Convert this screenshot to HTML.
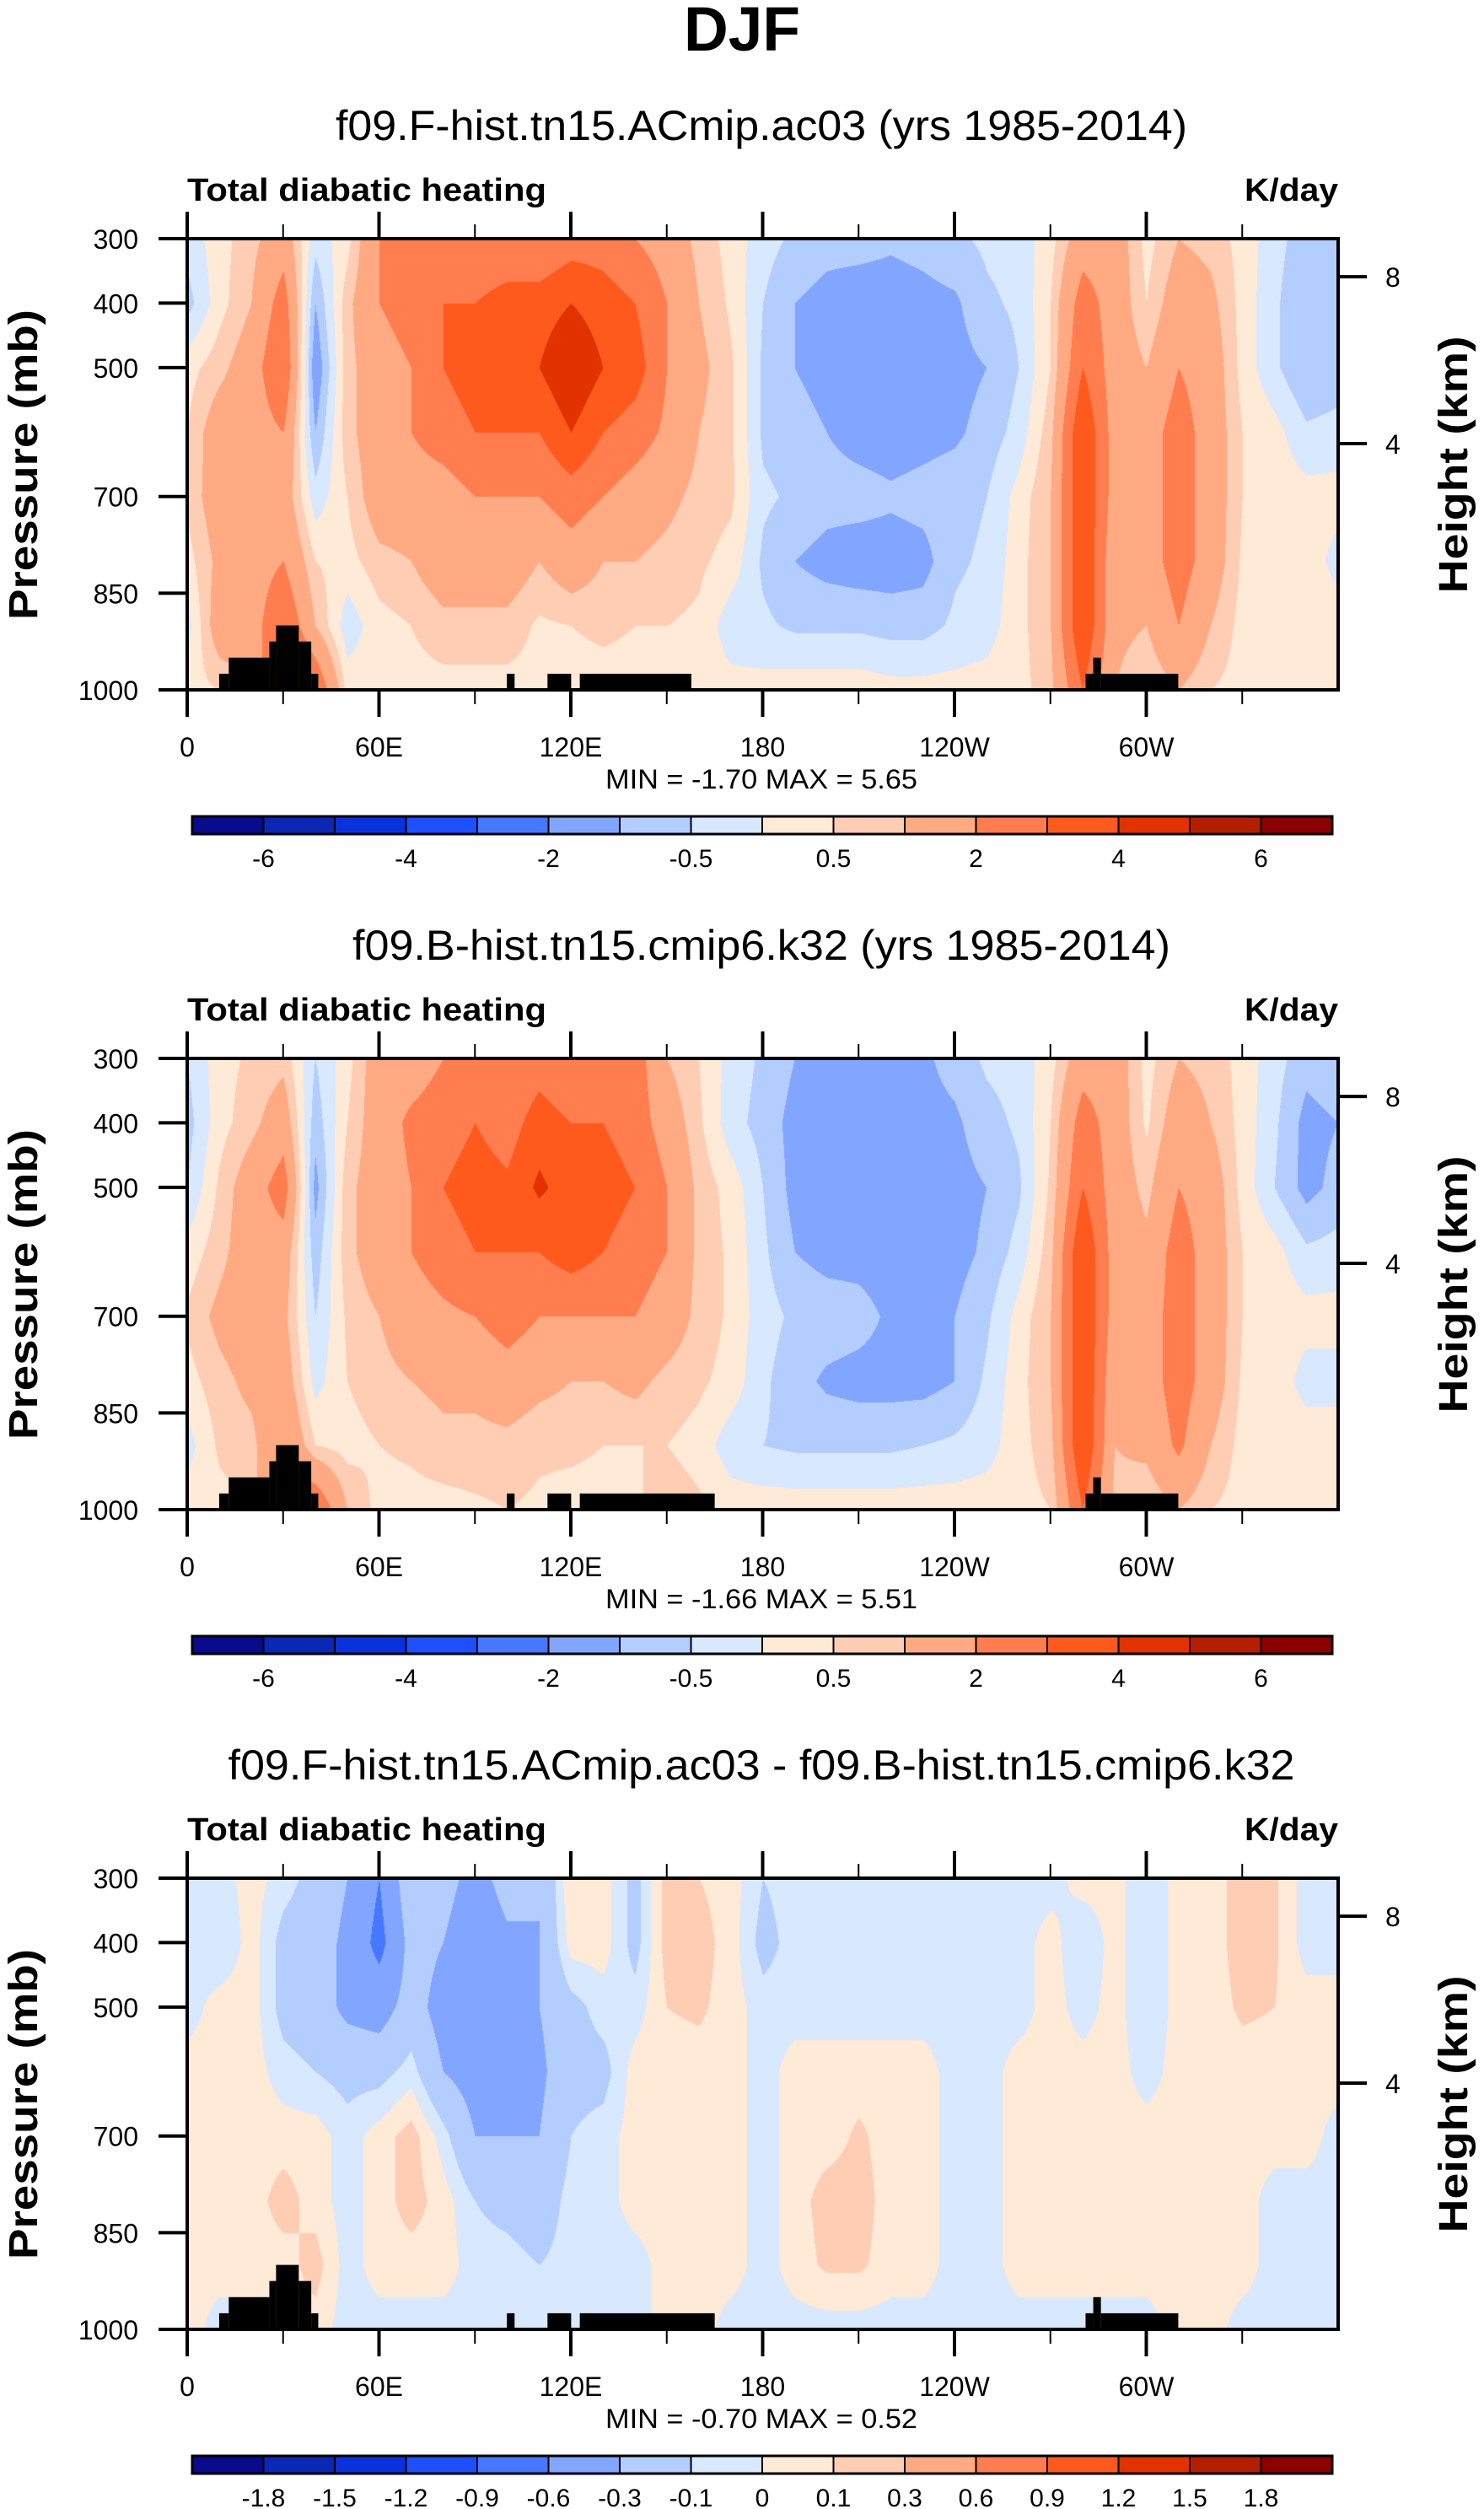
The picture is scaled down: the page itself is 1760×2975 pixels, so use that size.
<!DOCTYPE html>
<html><head><meta charset="utf-8">
<style>
html,body{margin:0;padding:0;background:#fff;}
#wrap{position:relative;width:1760px;height:2975px;overflow:hidden;background:#fff;}
canvas{position:absolute;}
svg{position:absolute;left:0;top:0;}
text{font-family:"Liberation Sans",sans-serif;fill:#000;}
</style></head>
<body>
<div id="wrap">
<svg id="svg" width="1760" height="2975"></svg>
</div>
<script>
// ---- data ----
const lons = [0,10,20,30,40,50,60,70,80,90,100,110,120,130,140,150,160,170,180,190,200,210,220,230,240,250,260,270,280,290,300,310,320,330,340,350,360];
const levels = [300,400,500,600,700,800,900,1000];
const heatA = [
[-0.3,-0.7,0.3,0.5,0.6,0.3,-0.2,0.3],[0.3,0.3,0.8,1.5,1.5,1.2,1.5,0.5],[0.8,1.0,1.5,1.5,1.5,1.5,1.5,1],
[1.5,2.5,3,2,1.5,2,3,4],[-0.3,-1,-1.5,-1,-0.3,0.5,1,3],[0.3,0.8,0.8,0.8,0.5,0.3,-0.3,0.3],
[2,2,1.5,1.5,1.5,0.8,0.3,0.3],[2,2.5,2,2,1.5,1,0.5,0.3],[2,3,3,2.5,1.5,1.5,0.8,0.3],
[2,3,3.5,3,2,1.5,0.8,0.3],[2,3.5,4,3,2,1.5,0.8,0.3],[2,3.5,4,3,2,1,0.4,0.3],
[2.5,4,5,4,2.5,1.5,0.5,0.3],[2.5,3.5,4,3,2,1,0.6,0.3],[2,3,3.5,2.5,1.5,1,0.5,0.3],
[1.5,2,2,1.8,1.2,0.8,0.5,0.3],[0.8,1,1.2,1,0.8,0.6,0.4,0.3],[0.3,0.4,0.6,0.6,0.6,0.3,-0.3,0.2],
[-0.3,-0.5,-0.6,-0.6,-0.4,-0.6,-0.4,0.2],[-0.6,-1,-1,-0.8,-0.6,-1,-0.6,0.3],[-0.8,-1.2,-1.2,-1,-0.8,-1.2,-0.6,0.3],
[-0.8,-1.3,-1.4,-1.2,-0.8,-1.3,-0.6,0.3],[-0.9,-1.3,-1.4,-1.3,-0.9,-1.3,-0.7,0.2],[-0.8,-1.2,-1.3,-1.2,-0.8,-1.2,-0.7,0.2],
[-0.6,-1.1,-1.2,-1.1,-0.7,-0.6,-0.4,0.2],[-0.4,-0.6,-1,-0.8,-0.5,-0.4,-0.2,0.2],[-0.3,-0.4,-0.5,-0.3,0.2,0.3,0.3,0.3],
[0.3,0.5,0.5,0.8,1,1,1,0.8],[1.5,2.5,3,4,4,4,4,3],[1.5,1.5,1.5,1.5,1.5,1.2,1.2,1],
[0.3,0.5,1,1.5,1.5,1.5,1,0.5],[1,1.5,2,2.5,2.5,2.5,2,1],[0.8,1.2,1.5,1.5,1.5,1.5,1,0.5],
[0.3,0.3,0.3,0.5,0.5,0.4,0.3,0.3],[-0.3,-0.4,-0.4,0.2,0.3,0.3,0.3,0.3],[-0.8,-1,-1,-0.4,0.2,0.3,0.3,0.3],
[-0.6,-1,-0.8,-0.3,0.2,-0.2,0.3,0.3]];
const heatB = [
[-0.5,-0.7,-0.5,0.2,0.6,0.3,-0.2,0.3],[0.3,0.3,0.6,0.8,1.2,0.8,0.6,0.3],[0.6,0.8,1.5,1.5,1.5,1.2,0.8,0.5],
[0.8,1.5,2.5,1.5,1.2,1.5,2,3],[-0.5,-0.8,-1.2,-0.8,-0.5,-0.2,0.5,3],[0.3,0.5,0.8,0.8,0.6,0.5,0.3,1],
[1.5,1.5,1.5,1.5,1,0.8,0.5,0.3],[1.5,2.2,2,2,1.5,1,0.6,0.3],[2,2.5,3,2.5,1.8,1.2,0.8,0.3],
[2.2,3,3.5,3,2,1.2,0.8,0.4],[2,2.5,3.2,3,2.5,1.5,0.8,0.5],[2.5,3.5,4.2,3,2,1.2,0.6,0.4],
[2,3,3.5,3.5,2,1,0.6,0.3],[2.5,3,3.5,3,2,1,0.5,0.3],[2.5,2.5,3,2.5,2,1.2,0.5,0.4],
[1,1.5,2,2,1.5,0.8,0.5,0.8],[0.5,0.6,0.8,0.8,0.8,0.6,0.3,0.6],[-0.2,-0.3,0.3,0.4,0.4,0.3,-0.3,0.3],
[-0.6,-0.7,-0.5,-0.4,-0.3,-0.4,-0.5,0.3],[-1,-1.2,-1.2,-1,-0.6,-0.8,-0.6,0.3],[-1.2,-1.3,-1.3,-1.2,-0.7,-1.1,-0.6,0.3],
[-1.2,-1.3,-1.3,-1.2,-0.8,-1.2,-0.6,0.3],[-1.2,-1.3,-1.4,-1.3,-1.1,-1.2,-0.6,0.3],[-1.1,-1.2,-1.3,-1.2,-1.1,-1.2,-0.5,0.3],
[-0.8,-1.1,-1.2,-1.2,-1,-1,-0.4,0.3],[-0.4,-0.7,-1,-0.9,-0.6,-0.4,-0.2,0.3],[-0.3,-0.4,-0.6,-0.3,0.2,0.3,0.3,0.3],
[0.3,0.5,0.6,0.8,1,1,0.8,0.5],[1.5,2.5,3,4,4,4,4,3],[1.5,1.5,1.5,1.5,1.5,1.2,1,0.8],
[0.3,0.4,0.8,1.2,1.5,1.5,1.2,0.5],[1,1.5,2,2.5,2.5,2.5,2.2,1],[0.8,1,1.5,1.5,1.5,1.5,1,0.5],
[0.3,0.3,0.3,0.5,0.5,0.4,0.3,0.3],[-0.3,-0.4,-0.5,0.2,0.3,0.3,0.3,0.3],[-0.8,-1.2,-1.2,-0.4,0.2,-0.2,0.3,0.3],
[-0.6,-1,-0.8,-0.3,0.2,-0.2,0.3,0.3]];
const heatDiff = [
[-0.05,-0.05,-0.05,0.05,0.05,0.05,0.05,0.05],[-0.05,-0.1,0.05,0.05,0.05,0.05,0.05,-0.05],[0.05,0.05,0.05,0.05,0.05,0.05,0.05,-0.05],
[-0.05,-0.15,-0.15,-0.05,0.05,0.15,0.05,0.05],[-0.15,-0.2,-0.2,-0.1,0.05,0.05,0.15,0.05],[-0.3,-0.35,-0.35,-0.15,-0.05,-0.05,-0.05,-0.05],
[-0.6,-0.7,-0.4,-0.15,0.05,0.05,0.05,-0.05],[-0.1,-0.2,-0.2,-0.05,0.15,0.15,0.05,-0.05],[-0.2,-0.3,-0.4,-0.3,-0.05,0.05,0.05,-0.05],
[-0.4,-0.5,-0.5,-0.4,-0.3,-0.1,-0.05,-0.05],[-0.2,-0.35,-0.4,-0.35,-0.3,-0.15,-0.05,-0.05],[-0.3,-0.3,-0.3,-0.35,-0.3,-0.2,-0.1,-0.05],
[0.1,0.05,-0.15,-0.15,-0.1,-0.05,-0.05,-0.05],[0.05,0.05,-0.05,-0.15,-0.05,-0.05,-0.05,-0.05],[-0.15,-0.15,-0.05,0.05,0.05,0.05,-0.05,-0.05],
[0.15,0.15,0.1,0.05,0.05,0.05,0.05,0.05],[0.1,0.15,0.12,0.05,0.05,0.05,0.05,0.05],[0.05,0.05,0.05,0.05,0.05,0.05,0.05,-0.05],
[-0.1,-0.15,-0.05,-0.05,-0.05,-0.05,-0.05,-0.05],[-0.05,-0.05,-0.05,0.05,0.05,0.05,0.05,-0.05],[-0.05,-0.05,-0.05,0.05,0.05,0.15,0.12,-0.05],
[-0.05,-0.05,-0.05,0.05,0.12,0.15,0.12,-0.05],[-0.05,-0.05,-0.05,0.05,0.05,0.05,0.05,-0.05],[-0.05,-0.05,-0.05,0.05,0.05,0.05,0.05,-0.05],
[-0.05,-0.05,-0.05,-0.05,-0.05,-0.05,-0.05,-0.05],[-0.05,-0.05,-0.05,-0.05,-0.05,-0.05,-0.05,-0.05],[-0.05,-0.05,-0.05,0.05,0.05,0.05,0.05,-0.05],
[-0.05,0.05,0.05,0.05,0.05,0.05,0.05,-0.05],[0.05,-0.1,-0.05,0.05,0.05,0.05,0.05,-0.05],[0.05,0.05,0.05,0.05,0.05,0.05,0.05,-0.05],
[-0.1,-0.1,-0.1,-0.05,0.05,0.05,0.05,-0.05],[0.05,0.05,0.05,0.05,0.05,0.05,0.05,0.05],[0.05,0.05,0.05,0.05,0.05,0.05,0.05,0.05],
[0.15,0.15,0.12,0.05,0.05,0.05,0.05,-0.05],[0.12,0.12,0.1,0.05,0.05,-0.05,-0.05,-0.05],[-0.05,-0.05,0.05,0.05,0.05,-0.05,-0.05,-0.05],
[-0.05,-0.05,0.05,0.05,-0.05,-0.05,-0.05,-0.05]];
const boundsFull = [-6,-5,-4,-3,-2,-1,-0.5,0,0.5,1,2,3,4,5,6];
const labelsFull = ["","-6","","-4","","-2","","-0.5","","0.5","","2","","4","","6",""];
const boundsDiff = [-1.8,-1.5,-1.2,-0.9,-0.6,-0.3,-0.1,0,0.1,0.3,0.6,0.9,1.2,1.5,1.8];
const labelsDiff = ["","-1.8","-1.5","-1.2","-0.9","-0.6","-0.3","-0.1","0","0.1","0.3","0.6","0.9","1.2","1.5","1.8",""];
const palette = ["#0a0a8c","#0a28b4","#0a32dc","#1e50ff","#4678ff","#82a5ff","#b4cdff","#d7e8ff","#ffe9d7","#ffcdb4","#ffaa82","#ff7d4f","#ff5a1e","#e13200","#b41e00","#8b0000"];
const terrStartA = [10,13,25.7,27.8,34.9,38.8,100,112.7,122.8,281,283.4,285.8];
const terrEndA   = [13,25.7,27.8,34.9,38.8,41,102.4,120.1,157.7,283.4,285.8,310];
const terrTopA   = [975,950,925,900,925,975,975,975,975,975,950,975];
const terrEndB   = [13,25.7,27.8,34.9,38.8,41,102.4,120.1,165,283.4,285.8,310];
const xTickLons = [0,60,120,180,240,300];
const xTickLabels = ["0","60E","120E","180","120W","60W"];
const yTickP = [300,400,500,700,850,1000];
const hTickP = [359,618];
const hTickLabels = ["8","4"];
const subtitles = ["f09.F-hist.tn15.ACmip.ac03 (yrs 1985-2014)","f09.B-hist.tn15.cmip6.k32 (yrs 1985-2014)","f09.F-hist.tn15.ACmip.ac03 - f09.B-hist.tn15.cmip6.k32"];
const subLen = [1010,970,1265];
const minMax = ["MIN =  -1.70  MAX =   5.65","MIN =  -1.66  MAX =   5.51","MIN =  -0.70  MAX =   0.52"];

// ---- layout ----
const L=222, R=1587, W=R-L, PT=283, PH=535, OFF=972;
const svg=document.getElementById('svg');
const wrap=document.getElementById('wrap');
const NS='http://www.w3.org/2000/svg';
function xOf(lon){return L+lon*W/360;}
function yOf(p,o){return o+PT+(p-300)*PH/700;}
function mk(tag,attrs,parent){const e=document.createElementNS(NS,tag);for(const k in attrs)e.setAttribute(k,attrs[k]);(parent||svg).appendChild(e);return e;}
function txt(s,attrs,parent){const e=mk('text',attrs,parent);e.textContent=s;return e;}

const t0=txt('DJF',{x:880,y:60,'font-size':74,'font-weight':'bold','text-anchor':'middle',textLength:138,lengthAdjust:'spacingAndGlyphs'});



function colorIdx(v,b){let i=0;while(i<b.length&&v>=b[i])i++;return i;}
function hexRGB(h){return [parseInt(h.substr(1,2),16),parseInt(h.substr(3,2),16),parseInt(h.substr(5,2),16)];}
const palRGB=palette.map(hexRGB);

function drawPanel(k,data,bounds,labels,tEnd){
  const o=k*OFF;
  const g=mk('g',{});
  
  
  const cv=document.createElement('canvas');
  cv.width=W;cv.height=PH;cv.style.left=L+'px';cv.style.top=(o+PT)+'px';
  
  
  wrap.insertBefore(cv,svg);
  const ctx=cv.getContext('2d');const img=ctx.createImageData(W,PH);
  for(let py=0;py<PH;py++){
    const p=300+py*700/PH; let j=Math.min(levels.length-2,Math.floor((p-300)/100)); const fy=(p-levels[j])/(levels[j+1]-levels[j]);
    for(let px=0;px<W;px++){
      const lon=px*360/W; let i=Math.min(lons.length-2,Math.floor(lon/10)); const fx=(lon-lons[i])/(lons[i+1]-lons[i]);
      const v=(data[i][j]*(1-fx)+data[i+1][j]*fx)*(1-fy)+(data[i][j+1]*(1-fx)+data[i+1][j+1]*fx)*fy;
      const c=palRGB[colorIdx(v,bounds)]; const q=(py*W+px)*4;
      img.data[q]=c[0];img.data[q+1]=c[1];img.data[q+2]=c[2];img.data[q+3]=255;
    }
  }
  ctx.putImageData(img,0,0);
  for(let t=0;t<terrStartA.length;t++){
    const x0=xOf(terrStartA[t]),x1=xOf(tEnd[t]),y0=yOf(terrTopA[t],o);
    const r=mk('rect',{x:x0,y:y0,width:x1-x0,height:yOf(1000,o)-y0,fill:'#000'},g);
    
    
  }
  const fr=mk('rect',{x:L,y:o+PT,width:W,height:PH,fill:'none',stroke:'#000','stroke-width':4},g);
  
  
  for(let lon=0;lon<360;lon+=30){
    const major=lon%60===0, len=major?32:17, x=xOf(lon);
    mk('line',{x1:x,x2:x,y1:o+PT,y2:o+PT-len,stroke:'#000','stroke-width':major?4:2},g);
    mk('line',{x1:x,x2:x,y1:o+PT+PH,y2:o+PT+PH+len,stroke:'#000','stroke-width':major?4:2},g);
  }
  xTickLons.forEach((lon,i)=>{
    const e=txt(xTickLabels[i],{x:xOf(lon),y:o+897,'font-size':32,'text-anchor':'middle'},g);
    
    
  });
  yTickP.forEach(p=>{
    const y=yOf(p,o);
    mk('line',{x1:L-34,x2:L,y1:y,y2:y,stroke:'#000','stroke-width':4},g);
    const e=txt(String(p),{x:164,y:y+12,'font-size':32,'text-anchor':'end'},g);
    
    
  });
  hTickP.forEach((p,i)=>{
    const y=yOf(p,o);
    mk('line',{x1:R,x2:R+34,y1:y,y2:y,stroke:'#000','stroke-width':4},g);
    const e=txt(hTickLabels[i],{x:1643,y:y+12,'font-size':32},g);
    
    
  });
  const st=txt(subtitles[k],{x:903,y:o+166,'font-size':50,'text-anchor':'middle',textLength:subLen[k],lengthAdjust:'spacingAndGlyphs'},g);
  
  
  const lt=txt('Total diabatic heating',{x:L,y:o+238,'font-size':38,'font-weight':'bold',textLength:426,lengthAdjust:'spacingAndGlyphs'},g);
  
  
  const ut=txt('K/day',{x:R,y:o+238,'font-size':38,'font-weight':'bold','text-anchor':'end',textLength:111,lengthAdjust:'spacingAndGlyphs'},g);
  
  
  const ya=txt('Pressure (mb)',{x:0,y:0,'font-size':48,'font-weight':'bold','text-anchor':'middle',textLength:368,lengthAdjust:'spacingAndGlyphs',transform:`translate(44,${o+551}) rotate(-90)`},g);
  
  
  const ha=txt('Height (km)',{x:0,y:0,'font-size':48,'font-weight':'bold','text-anchor':'middle',textLength:305,lengthAdjust:'spacingAndGlyphs',transform:`translate(1740,${o+551}) rotate(-90)`},g);
  
  
  const mm=txt(minMax[k],{x:903,y:o+935,'font-size':32,'text-anchor':'middle',textLength:370,lengthAdjust:'spacingAndGlyphs'},g);
  
  
  const cbL=228,cbR=1580,bw=(cbR-cbL)/16,cy=o+968,ch=21;
  for(let b=0;b<16;b++){
    const r=mk('rect',{x:cbL+b*bw,y:cy,width:bw,height:ch,fill:palette[b],stroke:'#000','stroke-width':2},g);
    
    
  }
  mk('rect',{x:cbL,y:cy,width:cbR-cbL,height:ch,fill:'none',stroke:'#000','stroke-width':3},g);
  labels.forEach((s,b)=>{
    if(!s)return;
    const e=txt(s,{x:cbL+b*bw,y:o+1028,'font-size':30,'text-anchor':'middle'},g);
    
    
  });
}
drawPanel(0,heatA,boundsFull,labelsFull,terrEndA);
drawPanel(1,heatB,boundsFull,labelsFull,terrEndB);
drawPanel(2,heatDiff,boundsDiff,labelsDiff,terrEndB);
</script>
</body></html>
